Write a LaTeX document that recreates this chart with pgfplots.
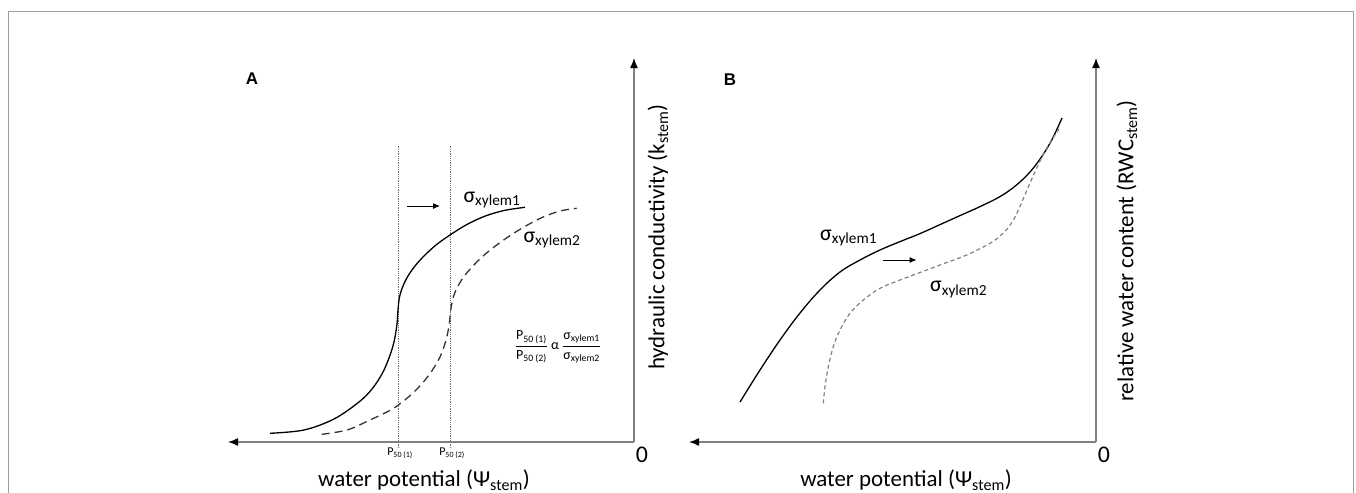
\documentclass[border=0pt]{standalone}
\usepackage{fontspec}
\setmainfont{Carlito}
\newfontfamily\panelfont{Liberation Sans}
\usepackage{pgfplots}
\pgfplotsset{compat=1.18}
\usetikzlibrary{arrows.meta}

\pgfplotsset{
  sketch/.style={
    x=1bp, y=1bp,
    x dir=reverse,
    axis x line=bottom,
    axis y line=right,
    xmin=0, ymin=0, ymax=384,
    enlargelimits=false,
    xtick=\empty, ytick=\empty,
    axis line style={draw=black!50, line width=1.4bp,
      -{Latex[length=10bp,width=8bp,color=black]}},
    clip=false,
    anchor=south east,
  },
}
\newcommand{\labsize}{\fontsize{23}{27}\selectfont}

\begin{document}
\begin{tikzpicture}
\useasboundingbox (0,0) rectangle (1356bp,-493bp);
\draw[black!38, line width=1bp] (8bp,-11bp) rectangle (1353bp,-520bp);

% panel A
\begin{axis}[sketch, xmax=406, at={(634bp,-442bp)}]
\addplot[black!55, densely dotted, line width=0.8bp] coordinates {(236,-6) (236,296)};
\addplot[black!55, densely dotted, line width=0.8bp] coordinates {(184,-6) (184,296)};
\addplot[black, line width=1.3bp, smooth, tension=0.55] coordinates {
  (364,8.7) (330,12) (300,23) (275,40) (262,53) (252,68) (245,84) (240,100)
  (237,118) (236,132) (234.5,145) (231,156) (226,166) (219,176) (210,186)
  (198,197) (184,207) (168,217) (150,225.5) (130,231.5) (109,234.7)
};
\addplot[black!80, line width=1.3bp, smooth, tension=0.55, dash pattern=on 8bp off 5bp] coordinates {
  (312.3,7.7) (287,12) (264,22) (240,34) (220,50) (205,67) (194,85) (188,102)
  (185,116) (184,125) (182.5,137) (180,147) (176,156) (170,165.5) (162,175)
  (152,185) (140,195) (126,205) (110,215) (92,224.5) (74,231) (57.3,233.7)
};
\addplot[black, line width=1bp, -{Latex[length=7bp,width=6bp]}] coordinates {(227,236) (194,236)};
\node[anchor=base west, font=\fontsize{22}{26}\selectfont] at (axis cs:174,240) {σ\textsubscript{xylem1}};
\node[anchor=base west, font=\fontsize{22}{26}\selectfont] at (axis cs:114,200) {σ\textsubscript{xylem2}};
\node[font=\fontsize{14}{17}\selectfont] at (axis cs:76,95)
  {$\displaystyle\frac{\mbox{P\textsubscript{50 (1)}}}{\mbox{P\textsubscript{50 (2)}}}$ α
   $\displaystyle\frac{\mbox{σ\textsubscript{xylem1}}}{\mbox{σ\textsubscript{xylem2}}}$};
\node[font=\fontsize{12}{14}\selectfont] at (axis cs:234,-11) {P\textsubscript{50 (1)}};
\node[font=\fontsize{12}{14}\selectfont] at (axis cs:182,-11) {P\textsubscript{50 (2)}};
\node[font=\fontsize{24}{28}\selectfont] at (axis cs:-8,-13) {0};
\node[font=\labsize] at (axis cs:210,-38) {water potential (Ψ\textsubscript{stem})};
\node[font=\labsize, rotate=90] at (axis cs:-24,205) {hydraulic conductivity (k\textsubscript{stem})};
\node[font=\panelfont\bfseries\fontsize{17}{20}\selectfont] at (axis cs:382,363) {A};
\end{axis}

% panel B
\begin{axis}[sketch, xmax=407, at={(1096bp,-442bp)}]
\addplot[black, line width=1.3bp, smooth, tension=0.6] coordinates {
  (356,40) (336,72) (316,102) (296,129) (276,152) (256,170) (236,182)
  (216,192) (196,200.4) (176,208.4) (156,217.4) (136,226.4) (116,235.4)
  (96,245.4) (80,256.6) (66,270) (54,285.8) (44,302.5) (34,324)
};
\addplot[black!50, line width=1.2bp, smooth, tension=0.6, dash pattern=on 4bp off 3bp] coordinates {
  (272.7,38.7) (271,55.3) (267.7,75.3) (262.7,95.3) (256,112) (246,128.7)
  (232.7,142) (216,153.7) (196,162) (176,169.5) (156,177) (129.3,187)
  (106,198.7) (96,206) (88,214) (81,225) (75,238) (69,252) (62,268)
  (55,283) (48,296) (41,307) (37,313)
};
\addplot[black, line width=1bp, -{Latex[length=7bp,width=6bp]}] coordinates {(212.7,182) (179.3,182)};
\node[anchor=base west, font=\fontsize{22}{26}\selectfont] at (axis cs:279.3,202) {σ\textsubscript{xylem1}};
\node[anchor=base west, font=\fontsize{22}{26}\selectfont] at (axis cs:169.3,150.3) {σ\textsubscript{xylem2}};
\node[font=\fontsize{24}{28}\selectfont] at (axis cs:-8,-13) {0};
\node[font=\labsize] at (axis cs:190,-38) {water potential (Ψ\textsubscript{stem})};
\node[font=\labsize, rotate=90] at (axis cs:-31,191) {relative water content (RWC\textsubscript{stem})};
\node[font=\panelfont\bfseries\fontsize{17}{20}\selectfont] at (axis cs:366,362.7) {B};
\end{axis}
\end{tikzpicture}
\end{document}
